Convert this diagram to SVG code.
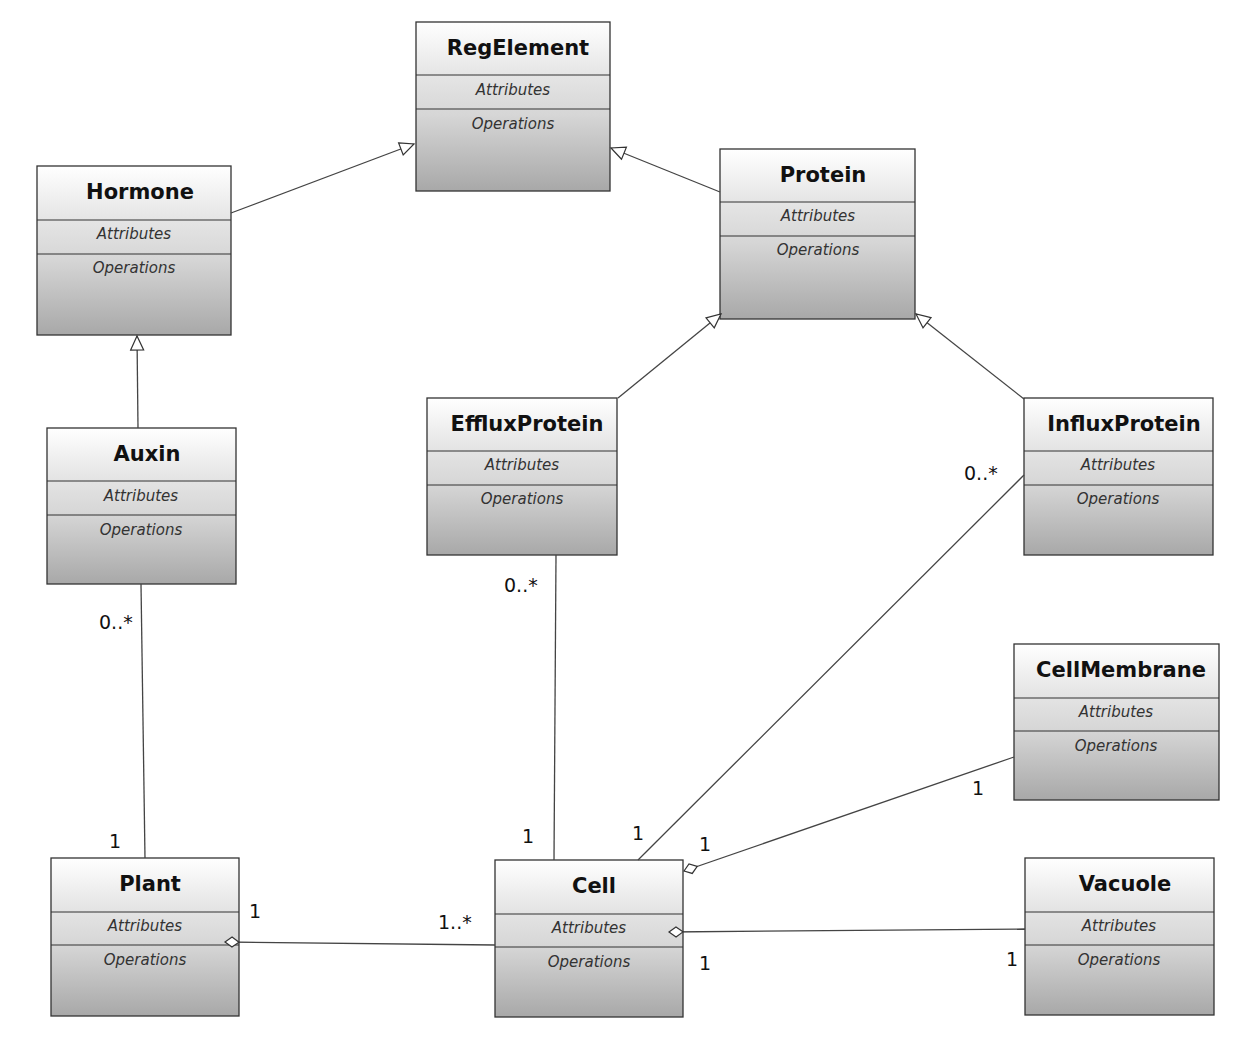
<svg xmlns="http://www.w3.org/2000/svg" width="1242" height="1044" viewBox="0 0 1242 1044">
<defs>
<linearGradient id="g" x1="0" y1="0" x2="0" y2="1">
<stop offset="0" stop-color="#ffffff"/>
<stop offset="0.3" stop-color="#e6e6e6"/>
<stop offset="0.55" stop-color="#d6d6d6"/>
<stop offset="1" stop-color="#a8a8a8"/>
</linearGradient>
<marker id="tri" markerUnits="userSpaceOnUse" markerWidth="16" markerHeight="14" refX="14" refY="6.5" orient="auto" overflow="visible">
<path d="M0,0 L14,6.5 L0,13 Z" fill="#fff" stroke="#333" stroke-width="1.2"/>
</marker>
<marker id="dia" markerUnits="userSpaceOnUse" markerWidth="16" markerHeight="12" refX="0" refY="5" orient="auto" overflow="visible">
<path d="M0,5 L7,0 L14,5 L7,10 Z" fill="#fff" stroke="#333" stroke-width="1.2"/>
</marker>
</defs>
<style>
.box{fill:url(#g);stroke:#333;stroke-width:1.3}
.div{stroke:#333;stroke-width:1.2}
.t{font-family:"DejaVu Sans",sans-serif;font-weight:bold;font-size:21px;fill:#111;text-anchor:middle}
.c{font-family:"DejaVu Sans",sans-serif;font-style:italic;font-size:15px;fill:#333;text-anchor:middle}
.m{font-family:"DejaVu Sans",sans-serif;font-size:19px;fill:#111}
.ln{stroke:#444;stroke-width:1.3;fill:none}
</style>
<g id="RegElement">
<rect class="box" x="416" y="22" width="194" height="169"/>
<line class="div" x1="416" y1="75" x2="610" y2="75"/><line class="div" x1="416" y1="109" x2="610" y2="109"/>
<text class="t" x="518" y="55">RegElement</text>
<text class="c" x="513" y="95">Attributes</text>
<text class="c" x="513" y="129">Operations</text>
</g>
<g id="Hormone">
<rect class="box" x="37" y="166" width="194" height="169"/>
<line class="div" x1="37" y1="220" x2="231" y2="220"/><line class="div" x1="37" y1="254" x2="231" y2="254"/>
<text class="t" x="140" y="199">Hormone</text>
<text class="c" x="134" y="239">Attributes</text>
<text class="c" x="134" y="273">Operations</text>
</g>
<g id="Protein">
<rect class="box" x="720" y="149" width="195" height="170"/>
<line class="div" x1="720" y1="202" x2="915" y2="202"/><line class="div" x1="720" y1="236" x2="915" y2="236"/>
<text class="t" x="823" y="182">Protein</text>
<text class="c" x="818" y="221">Attributes</text>
<text class="c" x="818" y="255">Operations</text>
</g>
<g id="Auxin">
<rect class="box" x="47" y="428" width="189" height="156"/>
<line class="div" x1="47" y1="481" x2="236" y2="481"/><line class="div" x1="47" y1="515" x2="236" y2="515"/>
<text class="t" x="147" y="461">Auxin</text>
<text class="c" x="141" y="501">Attributes</text>
<text class="c" x="141" y="535">Operations</text>
</g>
<g id="EffluxProtein">
<rect class="box" x="427" y="398" width="190" height="157"/>
<line class="div" x1="427" y1="451" x2="617" y2="451"/><line class="div" x1="427" y1="485" x2="617" y2="485"/>
<text class="t" x="527" y="431">EffluxProtein</text>
<text class="c" x="522" y="470">Attributes</text>
<text class="c" x="522" y="504">Operations</text>
</g>
<g id="InfluxProtein">
<rect class="box" x="1024" y="398" width="189" height="157"/>
<line class="div" x1="1024" y1="451" x2="1213" y2="451"/><line class="div" x1="1024" y1="485" x2="1213" y2="485"/>
<text class="t" x="1124" y="431">InfluxProtein</text>
<text class="c" x="1118" y="470">Attributes</text>
<text class="c" x="1118" y="504">Operations</text>
</g>
<g id="CellMembrane">
<rect class="box" x="1014" y="644" width="205" height="156"/>
<line class="div" x1="1014" y1="698" x2="1219" y2="698"/><line class="div" x1="1014" y1="731" x2="1219" y2="731"/>
<text class="t" x="1121" y="677">CellMembrane</text>
<text class="c" x="1116" y="717">Attributes</text>
<text class="c" x="1116" y="751">Operations</text>
</g>
<g id="Plant">
<rect class="box" x="51" y="858" width="188" height="158"/>
<line class="div" x1="51" y1="912" x2="239" y2="912"/><line class="div" x1="51" y1="945" x2="239" y2="945"/>
<text class="t" x="150" y="891">Plant</text>
<text class="c" x="145" y="931">Attributes</text>
<text class="c" x="145" y="965">Operations</text>
</g>
<g id="Cell">
<rect class="box" x="495" y="860" width="188" height="157"/>
<line class="div" x1="495" y1="914" x2="683" y2="914"/><line class="div" x1="495" y1="947" x2="683" y2="947"/>
<text class="t" x="594" y="893">Cell</text>
<text class="c" x="589" y="933">Attributes</text>
<text class="c" x="589" y="967">Operations</text>
</g>
<g id="Vacuole">
<rect class="box" x="1025" y="858" width="189" height="157"/>
<line class="div" x1="1025" y1="912" x2="1214" y2="912"/><line class="div" x1="1025" y1="945" x2="1214" y2="945"/>
<text class="t" x="1125" y="891">Vacuole</text>
<text class="c" x="1119" y="931">Attributes</text>
<text class="c" x="1119" y="965">Operations</text>
</g>
<g id="connectors">
<line class="ln" x1="231" y1="213" x2="414" y2="144" marker-end="url(#tri)"/>
<line class="ln" x1="720" y1="192" x2="611" y2="148" marker-end="url(#tri)"/>
<line class="ln" x1="138" y1="428" x2="137" y2="336" marker-end="url(#tri)"/>
<line class="ln" x1="618" y1="398" x2="721" y2="314" marker-end="url(#tri)"/>
<line class="ln" x1="1024" y1="399" x2="916" y2="314" marker-end="url(#tri)"/>
<line class="ln" x1="141" y1="584" x2="145" y2="858"/>
<line class="ln" x1="556" y1="555" x2="554" y2="860"/>
<line class="ln" x1="1024" y1="475" x2="638" y2="860"/>
<line class="ln" x1="684" y1="871" x2="1014" y2="757" marker-start="url(#dia)"/>
<line class="ln" x1="669" y1="932" x2="1025" y2="929" marker-start="url(#dia)"/>
<line class="ln" x1="225" y1="942" x2="495" y2="945" marker-start="url(#dia)"/>
<text class="m" x="99" y="629">0..*</text>
<text class="m" x="109" y="848">1</text>
<text class="m" x="504" y="592">0..*</text>
<text class="m" x="522" y="843">1</text>
<text class="m" x="964" y="480">0..*</text>
<text class="m" x="632" y="840">1</text>
<text class="m" x="972" y="795">1</text>
<text class="m" x="699" y="851">1</text>
<text class="m" x="1006" y="966">1</text>
<text class="m" x="699" y="970">1</text>
<text class="m" x="249" y="918">1</text>
<text class="m" x="438" y="929">1..*</text>
</g>
</svg>
